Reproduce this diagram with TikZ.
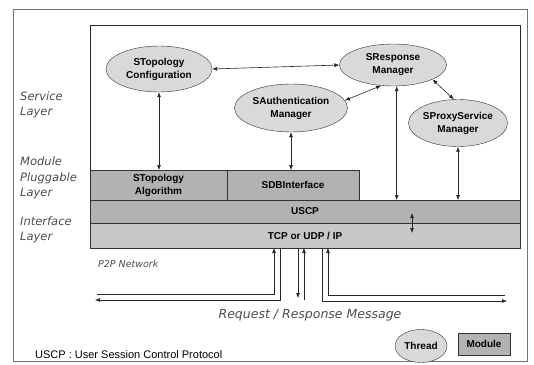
\documentclass[tikz,border=0pt]{standalone}
\usepackage{fontspec}
\setmainfont{Liberation Sans}
\newfontfamily\layerfont{DejaVu Sans}
\usetikzlibrary{calc, arrows.meta, shapes.geometric}

\begin{document}
\begin{tikzpicture}[
    x=1pt, y=-1pt,
    >={Latex[length=5pt, width=4pt]},
    service/.style = {
        ellipse,
        draw=black!80,
        fill=black!15,
        inner sep=0pt,
        align=center,
        font=\fontsize{10}{13}\selectfont\bfseries,
    },
    module/.style = {
        rectangle,
        draw=black!80,
        fill=black!30,
        inner sep=0pt,
        outer sep=0pt,
        anchor=north west,
        align=center,
        font=\fontsize{10}{13}\selectfont\bfseries,
    },
    layer/.style = {
        anchor=west,
        align=left,
        inner sep=0pt,
        text=black!70,
        font=\layerfont\itshape\fontsize{11.5}{15.5}\selectfont,
    },
    link/.style = {
        <->,
        draw=black!85,
        line width=0.6pt,
    },
    msg/.style = {
        ->,
        draw=black!85,
        line width=0.6pt,
    },
]
\useasboundingbox (0,0) rectangle (534,364);
% frames
\draw [black!55, line width=0.8pt] (13,9) rectangle (527,361);
\draw [black!85, line width=0.8pt] (90,25) rectangle (520,248);

% service layer
\node [service, minimum width=106, minimum height=46] (conf) at (159,69) {STopology\\Configuration};
\node [service, minimum width=107, minimum height=42] (resp) at (393,65) {SResponse\\Manager};
\node [service, minimum width=113, minimum height=48] (auth) at (291,108) {SAuthentication\\Manager};
\node [service, minimum width=93, minimum height=47] (proxy) at (458,123) {SProxyService\\Manager};

% module pluggable and interface layer
\node [module, minimum width=137, minimum height=30] (algo) at (90,170) {STopology\\Algorithm};
\node [module, minimum width=132, minimum height=30] (sdb) at (227,170) {SDBInterface};
\node [module, minimum width=430, minimum height=23] (uscp) at (90,200) {USCP};
\node [module, minimum width=430, minimum height=25, fill=black!22] (tcp) at (90,223) {TCP or UDP / IP};

\draw [link] (conf.east) -- (resp.west);
\draw [link] (conf.south) -- (conf.south |- algo.north);
\draw [link] (auth.south) -- (auth.south |- sdb.north);
\draw [link] (resp.-120) -- (auth.8);
\draw [link] (resp.-20) -- (proxy.100);
\draw [link] (resp.-80) -- (resp.-80 |- uscp.north);
\draw [link] (proxy.south) -- (proxy.south |- uscp.north);
\coordinate (stack-up) at (412,213);
\coordinate (stack-down) at (412,233);
\draw [link] (stack-up) -- (stack-down);

% layer names
\node [layer] (lbl-service) at (20,105) {Service\\Layer};
\node [layer] (lbl-module) at (20,178) {Module\\Pluggable\\Layer};
\node [layer] (lbl-iface) at (20,230) {Interface\\Layer};

% p2p network
\node [layer, font=\layerfont\itshape\fontsize{9.5}{11}\selectfont] (p2p) at (98,264) {P2P Network};
\coordinate (req-l) at (97,294);
\coordinate (port-a) at (274,248);
\coordinate (port-b) at (280,248);
\coordinate (res-l) at (95,300);
\coordinate (port-c) at (298,248);
\coordinate (down-c) at (298,298);
\coordinate (up-d) at (304,300);
\coordinate (port-d) at (304,248);
\coordinate (port-e) at (322,248);
\coordinate (res-r) at (507,301);
\coordinate (req-r) at (505,295);
\coordinate (port-f) at (328,248);
\draw [msg] (req-l) -| (port-a);
\draw [msg] (port-b) |- (res-l);
\draw [msg] (port-c) -- (down-c);
\draw [msg] (up-d) -- (port-d);
\draw [msg] (port-e) |- (res-r);
\draw [msg] (req-r) -| (port-f);
\node [layer, anchor=center, font=\layerfont\itshape\fontsize{12.5}{14}\selectfont] (msg-lbl) at (310,315) {Request / Response Message};

% legend
\node [anchor=west, inner sep=0pt, font=\fontsize{11}{13}\selectfont] (abbr) at (35,355) {USCP : User Session Control Protocol};
\node [service, minimum width=52, minimum height=33] (thread) at (421,346) {Thread};
\node [module, anchor=center, minimum width=52, minimum height=22] (mod) at (484,344) {Module};
\end{tikzpicture}
\end{document}
